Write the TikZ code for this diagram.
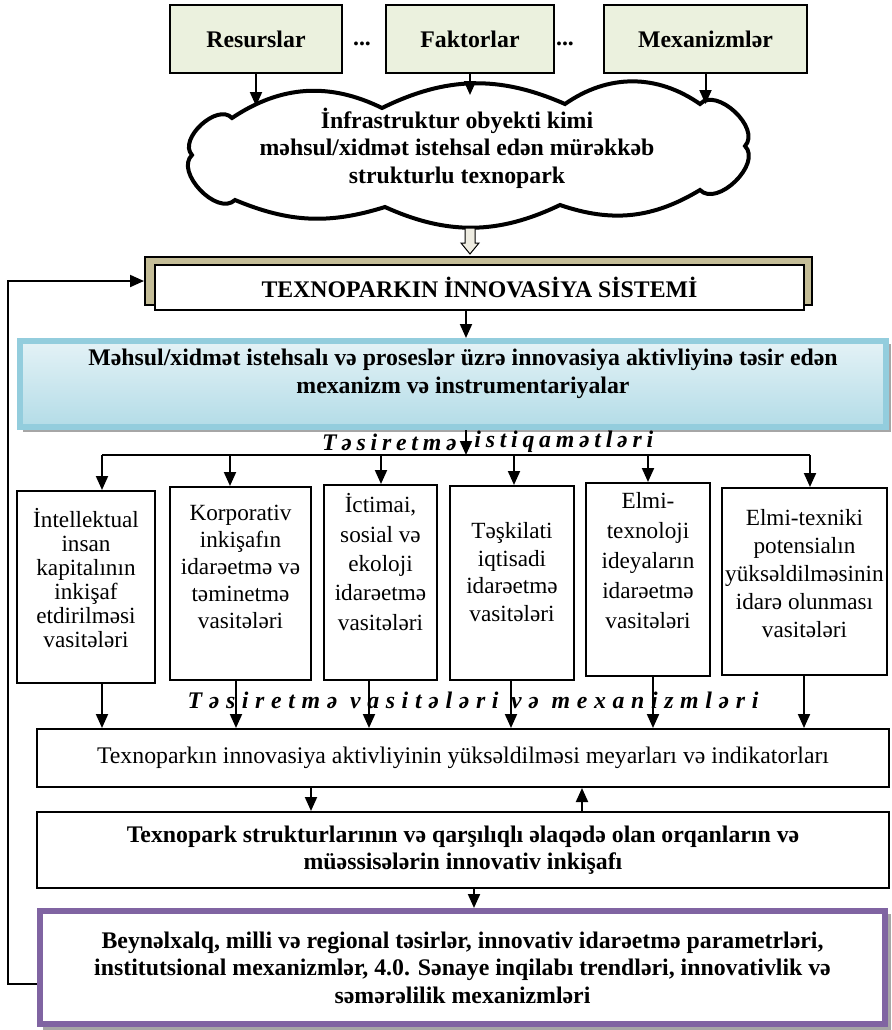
\documentclass[tikz,border=0pt]{standalone}
\usepackage{fontspec}
\setmainfont{Liberation Serif}
\usetikzlibrary{arrows.meta,calc}

\definecolor{boxgreen}{HTML}{EBF1DE}
\definecolor{frametan}{HTML}{C4BD97}
\definecolor{bluerim}{HTML}{93CDDD}
\definecolor{bluetop}{HTML}{E4F2F6}
\definecolor{bluebot}{HTML}{B3DCE7}
\definecolor{purplerim}{HTML}{8064A2}
\definecolor{arrowfill}{HTML}{EEECE1}
\definecolor{shadowgray}{HTML}{A6A6A6}

\newcommand\sz{\fontsize{11.9}{13.7}\selectfont}
\newcommand\szl[1]{\fontsize{11.6}{#1}\selectfont}

\begin{document}
\begin{tikzpicture}[x=0.5pt,y=-0.5pt,
  box/.style={draw, line width=1pt, inner sep=0pt, align=center},
  boldtext/.style={font=\sz\bfseries, align=center, inner sep=0pt},
  plaintext/.style={font=\sz, align=center, inner sep=0pt},
  smalltext/.style={font=\szl{#1}, align=center, inner sep=0pt},
  spacedtext/.style={font=\sz\bfseries\itshape\addfontfeature{LetterSpace=#1}, inner sep=0pt},
  arr/.style={line width=1pt, -{Triangle[length=7pt,width=6pt]}},
  plainline/.style={line width=1pt}]
\useasboundingbox (0,0) rectangle (891,1030);

% source boxes
\node[box, boldtext, fill=boxgreen, minimum width=86pt, minimum height=34pt] (res) at (256,39) {Resurslar};
\node[box, boldtext, fill=boxgreen, minimum width=84pt, minimum height=34pt] (fak) at (470,39) {Faktorlar};
\node[box, boldtext, fill=boxgreen, minimum width=101.5pt, minimum height=34pt] (mex) at (705.5,39) {Mexanizmlər};
\node[boldtext] (dots1) at (362,44) {...};
\node[boldtext] (dots2) at (565,44) {...};

% cloud outline built from lobes
\path[draw, line width=2pt, fill=white]
  (232,118) to[bend left=30] (382,108) to[bend left=25] (565,104)
  to[bend left=35] (700,104) to[bend left=90] (745,146) to[bend left=90] (700,190)
  to[bend left=25] (560,205) to[bend left=25] (385,207) to[bend left=20] (235,200)
  to[bend left=90] (192,155) to[bend left=90] (232,118) -- cycle;
\node[boldtext] (cloudtext) at (457,148)
  {İnfrastruktur obyekti kimi\\ məhsul/xidmət istehsal edən mürəkkəb\\ strukturlu texnopark};

\coordinate (cl1) at (0,106);
\coordinate (cl2) at (0,95);
\coordinate (cl3) at (0,104);
\draw[arr] (res.south) -- (res.south |- cl1);
\draw[arr] (fak.south) -- (fak.south |- cl2);
\draw[arr] (mex.south) -- (mex.south |- cl3);

% hollow block arrow
\draw[fill=arrowfill, line width=0.5pt]
  (465,228) -- (475,228) -- (475,243) -- (479,243) -- (470,254) -- (461,243) -- (465,243) -- cycle;

% innovation system box on its tan frame
\node[draw, line width=1pt, fill=frametan, minimum width=333.5pt, minimum height=24pt, inner sep=0pt] (frame) at (478.5,281) {};
\node[box, boldtext, fill=white, minimum width=324.5pt, minimum height=22.5pt] (sys) at (479.5,287.5) {TEXNOPARKIN İNNOVASİYA SİSTEMİ};

% mechanisms box
\fill[shadowgray] (23,344) rectangle (891,432);
\node[box, draw=bluerim, line width=3pt, top color=bluetop, bottom color=bluebot,
      minimum width=433pt, minimum height=43pt] (blue) at (453,384) {};
\node[boldtext] (bluetext) at (463,374)
  {Məhsul/xidmət istehsalı və proseslər üzrə innovasiya aktivliyinə təsir edən\\ mexanizm və instrumentariyalar};

\coordinate (c1) at (466,0);
\draw[arr] (sys.south -| c1) -- (blue.north -| c1);

% directions of influence, split round the down arrow
\node[spacedtext=20, anchor=east] (dirl) at (457,442) {Təsiretmə};
\node[spacedtext=20, anchor=west] (dirr) at (474,442) {istiqamətləri};

\node[box, minimum width=69pt, minimum height=96pt] (b1) at (86,587) {};
\node[box, minimum width=70.5pt, minimum height=96.5pt] (b2) at (240.5,583.5) {};
\node[box, minimum width=56.5pt, minimum height=97.5pt] (b3) at (380.5,582.5) {};
\node[box, minimum width=62pt, minimum height=97pt] (b4) at (512,583) {};
\node[box, minimum width=62pt, minimum height=96.5pt] (b5) at (648,579.5) {};
\node[box, minimum width=82.5pt, minimum height=93.5pt] (b6) at (804.5,581.5) {};

\node[smalltext=12] (b1t) at (86,578)
  {İntellektual\\ insan\\ kapitalının\\ inkişaf\\ etdirilməsi\\ vasitələri};
\node[smalltext=13.5] (b2t) at (240.5,567)
  {Korporativ\\ inkişafın\\ idarəetmə və\\ təminetmə\\ vasitələri};
\node[smalltext=14.7] (b3t) at (380.5,562)
  {İctimai,\\ sosial və\\ ekoloji\\ idarəetmə\\ vasitələri};
\node[smalltext=13.7] (b4t) at (512,572)
  {Təşkilati\\ iqtisadi\\ idarəetmə\\ vasitələri};
\node[smalltext=15] (b5t) at (648,561)
  {Elmi-\\ texnoloji\\ ideyaların\\ idarəetmə\\ vasitələri};
\node[smalltext=14] (b6t) at (804.5,574)
  {Elmi-texniki\\ potensialın\\ yüksəldilməsinin\\ idarə olunması\\ vasitələri};

\coordinate (bl) at (102,455);
\coordinate (br) at (810,455);
\draw[arr] (blue.south -| c1) -- (c1 |- bl);
\draw[plainline] (bl) -- (br);
\draw[arr] (bl) -- (bl |- b1.north);
\draw[arr] (230,455) -- (230,0 |- b2.north);
\draw[arr] (381,455) -- (381,0 |- b3.north);
\draw[arr] (514,455) -- (514,0 |- b4.north);
\draw[arr] (648,455) -- (648,0 |- b5.north);
\draw[arr] (br) -- (br |- b6.north);

% tools and mechanisms
\node[spacedtext=28] (tool) at (473,700) {Təsiretmə vasitələri və mexanizmləri};

\node[box, plaintext, minimum width=426pt, minimum height=29pt] (m) at (463,758)
  {Texnoparkın innovasiya aktivliyinin yüksəldilməsi meyarları və indikatorları};

\draw[arr] (b1.south -| 102,0) -- (102,0 |- m.north);
\draw[arr] (b2.south -| 236,0) -- (236,0 |- m.north);
\draw[arr] (b3.south -| 369,0) -- (369,0 |- m.north);
\draw[arr] (b4.south -| 511,0) -- (511,0 |- m.north);
\draw[arr] (b5.south -| 653,0) -- (653,0 |- m.north);
\draw[arr] (b6.south -| 804,0) -- (804,0 |- m.north);

\node[box, boldtext, minimum width=426pt, minimum height=38pt] (t) at (463,850)
  {Texnopark strukturlarının və qarşılıqlı əlaqədə olan orqanların və\\ müəssisələrin innovativ inkişafı};

\draw[arr] (m.south -| 311,0) -- (311,0 |- t.north);
\draw[arr] (t.north -| 582,0) -- (582,0 |- m.south);

% external influences
\fill[shadowgray] (43,914) rectangle (891,1030);
\node[box, boldtext, draw=purplerim, line width=3pt, fill=white,
      minimum width=422.5pt, minimum height=56.5pt] (pur) at (462.5,967.5)
  {Beynəlxalq, milli və regional təsirlər, innovativ idarəetmə parametrləri,\\
   institutsional mexanizmlər, 4.0. Sənaye inqilabı trendləri, innovativlik və\\
   səmərəlilik mexanizmləri};

\draw[arr] (t.south -| 474,0) -- (474,0 |- pur.north);

% feedback loop
\coordinate (fb) at (8,984);
\draw[arr] (pur.west |- fb) -- (fb) |- (frame.west);
\end{tikzpicture}
\end{document}
